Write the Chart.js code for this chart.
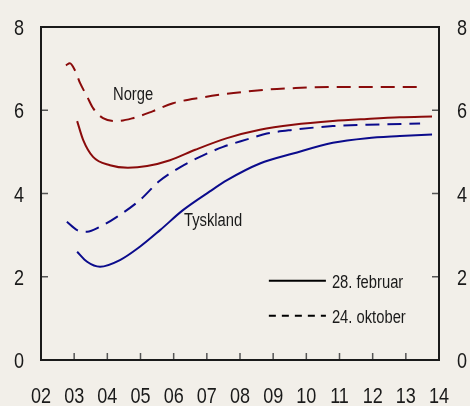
<!DOCTYPE html>
<html>
<head>
<meta charset="utf-8">
<script src="https://cdn.jsdelivr.net/npm/chart.js@4"></script>
<style>
  body { margin: 0; background: #f2efe9; }
  canvas { display: block; }
</style>
</head>
<body>
<canvas id="rates-chart" width="470" height="406"></canvas>
<script>
// year ticks along the bottom
var yearTicks = ['02', '03', '04', '05', '06', '07', '08', '09', '10', '11', '12', '13', '14'];
var valueTicks = ['0', '2', '4', '6', '8'];

// Norge, 28. februar
var norgeFebYears = [2003.09, 2003.27, 2003.57, 2004.08, 2004.62, 2005.20, 2005.89, 2006.65, 2007.61, 2008.60, 2009.60, 2010.80, 2011.83, 2012.82, 2013.79];
var norgeFebValues = [5.74, 5.29, 4.88, 4.68, 4.62, 4.66, 4.80, 5.05, 5.33, 5.53, 5.65, 5.74, 5.79, 5.83, 5.85];

// Norge, 24. oktober
var norgeOctYears = [2002.75, 2002.87, 2003.03, 2003.18, 2003.39, 2003.57, 2003.87, 2004.29, 2004.77, 2005.38, 2005.98, 2006.88, 2007.55, 2008.21, 2008.90, 2009.60, 2010.20, 2011.32, 2012.52, 2013.43];
var norgeOctValues = [7.08, 7.13, 6.95, 6.65, 6.33, 6.05, 5.81, 5.74, 5.81, 5.98, 6.17, 6.31, 6.39, 6.45, 6.50, 6.53, 6.55, 6.56, 6.56, 6.56];

// Tyskland, 28. februar
var tysklandFebYears = [2003.09, 2003.39, 2003.78, 2004.38, 2004.98, 2005.59, 2006.28, 2007.09, 2007.61, 2008.60, 2009.60, 2010.80, 2011.83, 2012.82, 2013.79];
var tysklandFebValues = [2.60, 2.36, 2.24, 2.40, 2.72, 3.12, 3.60, 4.05, 4.32, 4.72, 4.96, 5.22, 5.33, 5.38, 5.42];

// Tyskland, 24. oktober
var tysklandOctYears = [2002.78, 2003.09, 2003.39, 2003.78, 2004.29, 2004.98, 2005.57, 2006.19, 2006.79, 2007.49, 2008.21, 2008.81, 2009.60, 2010.80, 2011.83, 2013.43];
var tysklandOctValues = [3.32, 3.12, 3.08, 3.20, 3.44, 3.84, 4.30, 4.63, 4.88, 5.12, 5.30, 5.44, 5.53, 5.62, 5.65, 5.68];

var red = '#8a0b0b';
var blue = '#0b0b8c';
var textColor = '#1a1a1a';
var fontName = '"Liberation Sans", Arial, sans-serif';

function toPoints(xs, ys) {
    return xs.map(function(x, i) { return {x: x, y: ys[i]}; });
}

function makeLine(xs, ys, color, dashed) {
    return {
        data: toPoints(xs, ys),
        borderColor: color,
        borderWidth: 2,
        borderDash: dashed ? [14, 8] : [],
        pointRadius: 0,
        cubicInterpolationMode: 'monotone',
        fill: false
    };
}

// condensed text, the original uses a narrow face
function narrowText(ctx, text, x, y, align) {
    ctx.save();
    ctx.translate(x, y);
    ctx.scale(0.82, 1);
    ctx.textAlign = align;
    ctx.fillText(text, 0, 0);
    ctx.restore();
}

// background, frame, inner ticks, labels and legend
var decorations = {
    id: 'decorations',
    beforeDraw: function(chart) {
        var ctx = chart.ctx;
        ctx.save();
        ctx.fillStyle = '#f2efe9';
        ctx.fillRect(0, 0, chart.width, chart.height);
        ctx.restore();
    },
    afterDatasetsDraw: function(chart) {
        var ctx = chart.ctx;
        var a = chart.chartArea;
        var x = chart.scales.x;
        var y = chart.scales.y;
        ctx.save();
        // inner tick marks
        ctx.strokeStyle = '#555';
        ctx.lineWidth = 1.5;
        ctx.beginPath();
        for (var i = 1; i < yearTicks.length - 1; i++) {
            var px = x.getPixelForValue(2002 + i);
            ctx.moveTo(px, a.bottom);
            ctx.lineTo(px, a.bottom - 7);
        }
        for (var j = 1; j < valueTicks.length - 1; j++) {
            var py = y.getPixelForValue(Number(valueTicks[j]));
            ctx.moveTo(a.left, py);
            ctx.lineTo(a.left + 7, py);
            ctx.moveTo(a.right, py);
            ctx.lineTo(a.right - 7, py);
        }
        ctx.stroke();
        // frame
        ctx.strokeStyle = '#1a1a1a';
        ctx.lineWidth = 2;
        ctx.strokeRect(a.left, a.top, a.right - a.left, a.bottom - a.top);

        // axis labels
        ctx.fillStyle = textColor;
        ctx.textBaseline = 'alphabetic';
        ctx.font = '22px ' + fontName;
        yearTicks.forEach(function(t, i) {
            narrowText(ctx, t, x.getPixelForValue(2002 + i), a.bottom + 43, 'center');
        });
        valueTicks.forEach(function(t) {
            var py = y.getPixelForValue(Number(t)) + 8;
            narrowText(ctx, t, a.left - 17, py, 'right');
            narrowText(ctx, t, a.right + 18, py, 'left');
        });

        // series labels
        ctx.font = '18px ' + fontName;
        narrowText(ctx, 'Norge', x.getPixelForValue(2004.17), y.getPixelForValue(6.25), 'left');
        narrowText(ctx, 'Tyskland', x.getPixelForValue(2006.31), y.getPixelForValue(3.22), 'left');

        // legend
        var lx0 = x.getPixelForValue(2008.87);
        var lx1 = x.getPixelForValue(2010.59);
        var rows = [['28. februar', [], 1.905], ['24. oktober', [7, 6], 1.064]];
        rows.forEach(function(row) {
            var ly = y.getPixelForValue(row[2]);
            ctx.strokeStyle = '#000';
            ctx.lineWidth = 2;
            ctx.setLineDash(row[1]);
            ctx.beginPath();
            ctx.moveTo(lx0, ly);
            ctx.lineTo(lx1, ly);
            ctx.stroke();
            ctx.setLineDash([]);
            narrowText(ctx, row[0], lx1 + 6, ly + 7, 'left');
        });
        ctx.restore();
    }
};

new Chart(document.getElementById('rates-chart'), {
    type: 'line',
    data: {
        datasets: [
            makeLine(norgeOctYears, norgeOctValues, red, true),
            makeLine(norgeFebYears, norgeFebValues, red, false),
            makeLine(tysklandOctYears, tysklandOctValues, blue, true),
            makeLine(tysklandFebYears, tysklandFebValues, blue, false)
        ]
    },
    options: {
        responsive: false,
        animation: false,
        layout: { padding: { top: 27 } },
        plugins: { legend: { display: false }, tooltip: { enabled: false } },
        scales: {
            x: {
                type: 'linear',
                min: 2002,
                max: 2014,
                afterFit: function(s) { s.height = 46; },
                grid: { display: false, drawTicks: false },
                border: { display: false },
                ticks: { display: false, stepSize: 1 }
            },
            y: {
                position: 'left',
                min: 0,
                max: 8,
                afterFit: function(s) { s.width = 41; },
                grid: { display: false, drawTicks: false },
                border: { display: false },
                ticks: { display: false, stepSize: 2 }
            },
            y2: {
                position: 'right',
                min: 0,
                max: 8,
                afterFit: function(s) { s.width = 31; },
                grid: { display: false, drawTicks: false },
                border: { display: false },
                ticks: { display: false, stepSize: 2 }
            }
        }
    },
    plugins: [decorations]
});
</script>
</body>
</html>
